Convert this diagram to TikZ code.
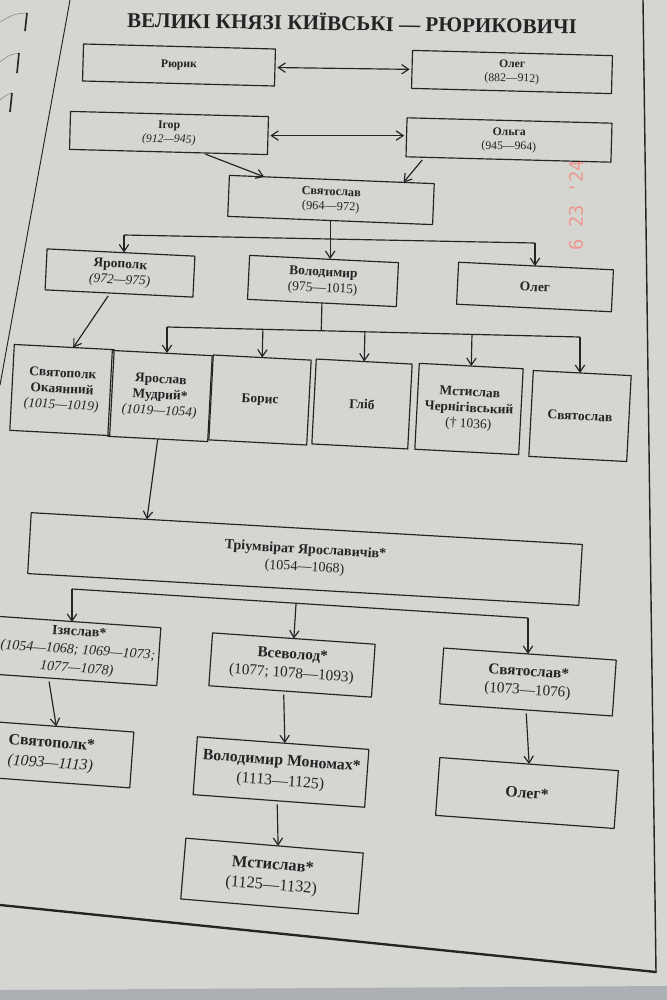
\documentclass[tikz,border=0pt]{standalone}
\usepackage{fontspec}
\setmainfont{Liberation Serif}
\newfontfamily\stampfont{DejaVu Sans Mono}
\usetikzlibrary{arrows.meta,calc}
\definecolor{paper}{RGB}{213,213,210}
\definecolor{edge}{RGB}{172,175,180}
\definecolor{ink}{RGB}{36,36,36}
\definecolor{stampred}{RGB}{236,152,142}
\tikzset{
  box/.style={draw=ink, line width=1pt, text=ink, align=center, inner sep=1pt, outer sep=0pt},
  sz/.style 2 args={minimum width=#1*0.3mm, minimum height=#2*0.3mm},
  tier1/.style={rotate=-1.5, font=\fontsize{10}{12}\selectfont},
  tier2/.style={rotate=-2.3, font=\fontsize{10.5}{12.5}\selectfont},
  tier3/.style={rotate=-2.8, font=\fontsize{11.5}{13.5}\selectfont},
  tier4/.style={rotate=-3, font=\fontsize{11.5}{13.5}\selectfont},
  tier5/.style={rotate=-3.3, font=\fontsize{12}{15}\selectfont},
  tier6/.style={rotate=-4, font=\fontsize{13}{16}\selectfont},
  tier7/.style={rotate=-4.2, font=\fontsize{13.5}{17.5}\selectfont},
  tier8/.style={rotate=-4.8, font=\fontsize{14}{17.5}\selectfont},
  heading/.style={text=ink, rotate=-0.8, font=\fontsize{18}{20}\selectfont\bfseries},
  datestamp/.style={text=stampred, rotate=90, font=\stampfont\fontsize{16}{17}\selectfont},
  frame/.style={draw=ink, line cap=round}
}
\begin{document}
\begin{tikzpicture}[x=0.03cm, y=-0.03cm, >={Straight Barb[length=6pt,width=8pt]}, line join=round]
\useasboundingbox (0,0) rectangle (667,1000);
\fill[paper] (0,0) rectangle (667,1000);
\fill[edge] (0,990) -- (667,986) -- (667,1000) -- (0,1000) -- cycle;
\draw[frame, line width=0.8pt] (70,0) -- (0,385);
\draw[frame, line width=1.2pt] (643,0) -- (656,972);
\draw[frame, line width=2pt] (0,905) -- (656,972);
\draw[ink!60, line width=0.4pt] (26,13) .. controls (14,14) .. (0,22);
\draw[ink!60, line width=0.4pt] (19,53) .. controls (9,55) .. (0,62);
\draw[ink!60, line width=0.4pt] (12,93) .. controls (6,95) .. (0,100);
\draw[ink, line width=1.4pt] (27,13) -- (25,31);
\draw[ink, line width=1.4pt] (19,53) -- (17,73);
\draw[ink, line width=1.4pt] (12,93) -- (10,112);
\node[datestamp] (stamp) at (576,205) {6 23 '24};
\node[heading] (title) at (352,22) {ВЕЛИКІ КНЯЗІ КИЇВСЬКІ — РЮРИКОВИЧІ};

\node[box, tier1, sz={192}{37}] (rurik) at (179,65) {\textbf{Рюрик}};
\node[box, tier1, sz={200}{38}] (oleg) at (512,72) {\textbf{Олег}\\(882—912)};
\node[box, tier1, sz={198}{38}] (igor) at (169,133) {\textbf{Ігор}\\\textit{(912—945)}};
\node[box, tier1, sz={205}{39}] (olga) at (509,140) {\textbf{Ольга}\\(945—964)};
\node[box, tier2, sz={205}{41}] (svyatoslav) at (331,200) {\textbf{Святослав}\\(964—972)};
\node[box, tier3, sz={148}{41}] (yaropolk) at (120,273) {\textbf{Ярополк}\\\textit{(972—975)}};
\node[box, tier3, sz={149}{44}] (volodymyr) at (323,281) {\textbf{Володимир}\\(975—1015)};
\node[box, tier3, sz={155}{42}] (olegB) at (535,287) {\textbf{Олег}};
\node[box, tier4, sz={100}{86}] (svyatopolk) at (62,390) {\textbf{Святополк}\\\textbf{Окаянний}\\\textit{(1015—1019)}};
\node[box, tier4, sz={100}{86}] (yaroslav) at (160,396) {\textbf{Ярослав}\\\textbf{Мудрий*}\\\textit{(1019—1054)}};
\node[box, tier4, sz={98}{85}] (borys) at (260,400) {\textbf{Борис}};
\node[box, tier4, sz={96}{85}] (hlib) at (362,404) {\textbf{Гліб}};
\node[box, tier4, sz={104}{86}] (mstchern) at (469,409) {\textbf{Мстислав}\\\textbf{Чернігівський}\\(† 1036)};
\node[box, tier4, sz={98}{86}] (svyatB) at (580,416) {\textbf{Святослав}};
\node[box, tier5, sz={552}{61}] (triumv) at (305,559) {\textbf{Тріумвірат Ярославичів*}\\(1054—1068)};
\node[box, tier6, sz={162}{58}, font=\fontsize{12}{15.5}\selectfont] (izyaslav) at (78,651) {\textbf{Ізяслав*}\\\textit{(1054—1068; 1069—1073;}\\\textit{1077—1078)}};
\node[box, tier6, sz={163}{53}] (vsevolod) at (292,665) {\textbf{Всеволод*}\\(1077; 1078—1093)};
\node[box, tier6, sz={173}{56}] (svyatC) at (528,682) {\textbf{Святослав*}\\(1073—1076)};
\node[box, tier7, sz={162}{56}] (svyatopolkB) at (51,754) {\textbf{Святополк*}\\\textit{(1093—1113)}};
\node[box, tier7, sz={172}{58}] (monomakh) at (281,772) {\textbf{Володимир Мономах*}\\(1113—1125)};
\node[box, tier7, sz={179}{58}] (olegC) at (527,793) {\textbf{Олег*}};
\node[box, tier8, sz={178}{61}] (mstyslav) at (272,876) {\textbf{Мстислав*}\\(1125—1132)};

\coordinate (busA1) at (124,235);
\coordinate (busA2) at (535,243);
\coordinate (busB1) at (167,327);
\coordinate (busB2) at (580,337);
\coordinate (busC1) at (72,589);
\coordinate (busC2) at (528,618);

\begin{scope}[draw=ink, line width=1pt]
\draw[<->, shorten <=2pt, shorten >=2pt] (rurik.east) -- (oleg.west);
\draw[<->, shorten <=2pt, shorten >=2pt] (igor.east) -- (igor.east -| olga.west);
\draw[->, shorten <=3pt] ($(igor.south west)!0.67!(igor.south east)$) -- ($(svyatoslav.north west)!0.17!(svyatoslav.north east)$);
\draw[->, shorten <=3pt] ($(olga.south west)!0.09!(olga.south east)$) -- ($(svyatoslav.north west)!0.85!(svyatoslav.north east)$);
\draw (busA1) -- (busA2);
\draw[->] (svyatoslav.south) -- (svyatoslav.south |- volodymyr.north);
\draw[->] (busA1) -- (busA1 |- yaropolk.north);
\draw[->] (busA2) -- (busA2 |- olegB.north);
\draw[->, shorten <=3pt] ($(yaropolk.south west)!0.44!(yaropolk.south east)$) -- ($(svyatopolk.north west)!0.59!(svyatopolk.north east)$);
\draw (volodymyr.south) -- ($(busB1)!(volodymyr.south)!(busB2)$);
\draw (busB1) -- (busB2);
\draw[->] (busB1) -- (busB1 |- yaroslav.north);
\foreach \n in {borys,hlib,mstchern}
  \draw[->] ($(busB1)!(\n.north)!(busB2)$) -- (\n.north);
\draw[->] (busB2) -- (busB2 |- svyatB.north);
\draw[->] (yaroslav.south) -- ($(triumv.north west)!0.21!(triumv.north east)$);
\draw (busC1) -- (busC2);
\draw[->] (busC1) -- (busC1 |- izyaslav.north);
\draw[->] ($(busC1)!(vsevolod.north)!(busC2)$) -- (vsevolod.north);
\draw[->] (busC2) -- (busC2 |- svyatC.north);
\draw[->, shorten <=3pt] ($(izyaslav.south west)!0.33!(izyaslav.south east)$) -- ($(svyatopolkB.north west)!0.52!(svyatopolkB.north east)$);
\draw[->, shorten <=3pt] ($(vsevolod.south west)!0.46!(vsevolod.south east)$) -- ($(monomakh.north west)!0.51!(monomakh.north east)$);
\draw[->, shorten <=3pt] (svyatC.south) -- (olegC.north);
\draw[->, shorten <=3pt] ($(monomakh.south west)!0.49!(monomakh.south east)$) -- ($(mstyslav.north west)!0.52!(mstyslav.north east)$);
\end{scope}
\end{tikzpicture}
\end{document}
